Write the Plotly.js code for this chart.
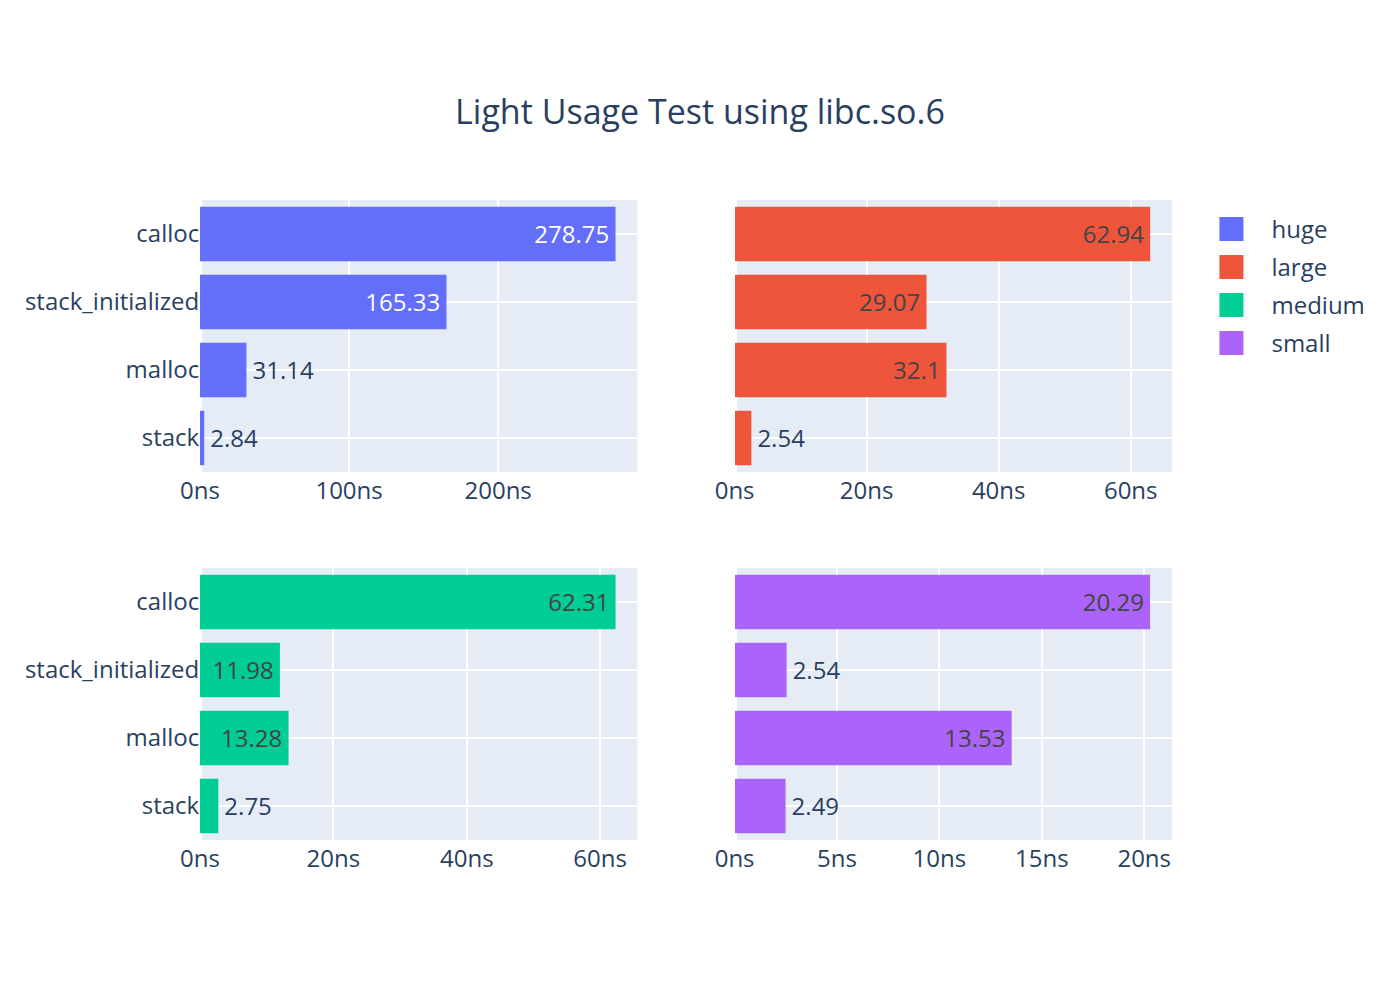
<!DOCTYPE html>
<html>
<head>
<meta charset="utf-8">
<script src="https://cdn.plot.ly/plotly-3.0.1.min.js"></script>
<style>
body{margin:0;padding:0;overflow:hidden;}
#wrap{width:1400px;height:1000px;}
#chart{width:700px;height:500px;transform:scale(2);transform-origin:0 0;}
</style>
</head>
<body>
<div id="wrap"><div id="chart"></div></div>
<script>
const categories = ["stack", "malloc", "stack_initialized", "calloc"];
const hugeVals = [2.84, 31.14, 165.33, 278.75];
const largeVals = [2.54, 32.1, 29.07, 62.94];
const mediumVals = [2.75, 13.28, 11.98, 62.31];
const smallVals = [2.49, 13.53, 2.54, 20.29];
const seriesNames = ["huge", "large", "medium", "small"];
const colors = ["#636efa", "#EF553B", "#00cc96", "#ab63fa"];

const vals = [hugeVals, largeVals, mediumVals, smallVals];
const axes = [["x", "y"], ["x2", "y2"], ["x3", "y3"], ["x4", "y4"]];
const traces = vals.map((v, i) => ({
  type: "bar",
  orientation: "h",
  name: seriesNames[i],
  x: v,
  y: categories,
  text: v.map(String),
  textposition: "auto",
  marker: {color: colors[i]},
  xaxis: axes[i][0],
  yaxis: axes[i][1]
}));

const grid = {gridcolor: "white", linecolor: "white", zerolinecolor: "white", zerolinewidth: 2, ticks: "", automargin: true};
const xax = (dom, anchor) => Object.assign({domain: dom, anchor: anchor, ticksuffix: "ns", ticklabelstandoff: -2}, grid);
const yax = (dom, anchor, show) => Object.assign({domain: dom, anchor: anchor, showticklabels: show, type: "category", ticklabelstandoff: -3}, grid);

const layout = {
  width: 700, height: 500,
  paper_bgcolor: "white",
  plot_bgcolor: "#E5ECF6",
  font: {family: "\"Open Sans\", verdana, arial, sans-serif", size: 12, color: "#2a3f5f"},
  title: {text: "Light Usage Test using libc.so.6", x: 0.5, y: 0.9, yanchor: "top", font: {size: 17}},
  margin: {l: 80, r: 80, t: 100, b: 80},
  xaxis: xax([0, 0.45], "y"),
  yaxis: yax([0.575, 1], "x", true),
  xaxis2: xax([0.55, 1], "y2"),
  yaxis2: Object.assign(yax([0.575, 1], "x2", false), {matches: "y"}),
  xaxis3: xax([0, 0.45], "y3"),
  yaxis3: yax([0, 0.425], "x3", true),
  xaxis4: xax([0.55, 1], "y4"),
  yaxis4: Object.assign(yax([0, 0.425], "x4", false), {matches: "y3"}),
  showlegend: true
};

Plotly.newPlot("chart", traces, layout, {displayModeBar: false, staticPlot: true});
</script>
</body>
</html>
